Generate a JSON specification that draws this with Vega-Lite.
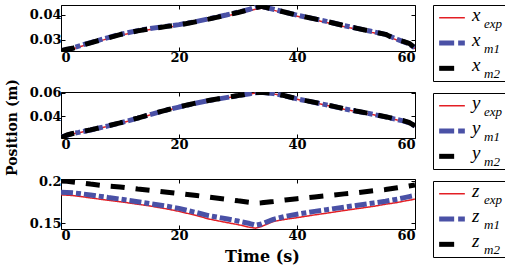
{
  "$schema": "https://vega.github.io/schema/vega-lite/v6.json",
  "padding": {"left": 4, "top": 4, "right": 2, "bottom": 2},
  "config": {
    "view": {"stroke": "black", "strokeWidth": 1},
    "font": "DejaVu Serif",
    "line": {"strokeJoin": "bevel", "clip": true},
    "axis": {"labelFont": "DejaVu Serif", "labelFontWeight": "bold", "labelFontSize": 13, "labelColor": "black", "titleFont": "DejaVu Serif", "titleFontWeight": "bold", "titleFontSize": 15, "titleColor": "black", "grid": false, "domain": false, "tickColor": "black", "tickSize": -4, "labelPadding": 4, "minExtent": 0}
  },
  "datasets": {
    "x": [
      {"t":0,"exp":0.0256,"m1":0.0257,"m2":0.0256},{"t":1,"exp":0.0258,"m1":0.0260,"m2":0.0262},{"t":2,"exp":0.0264,"m1":0.0267,"m2":0.0266},{"t":3,"exp":0.0271,"m1":0.0275,"m2":0.0274},{"t":5,"exp":0.0285,"m1":0.0289,"m2":0.0288},{"t":8,"exp":0.0305,"m1":0.0309,"m2":0.0308},{"t":10,"exp":0.0318,"m1":0.0322,"m2":0.0321},{"t":13,"exp":0.0333,"m1":0.0337,"m2":0.0336},{"t":15,"exp":0.0341,"m1":0.0345,"m2":0.0344},{"t":18,"exp":0.0351,"m1":0.0355,"m2":0.0354},{"t":20,"exp":0.0357,"m1":0.0361,"m2":0.0360},{"t":23,"exp":0.0370,"m1":0.0374,"m2":0.0373},{"t":25,"exp":0.0380,"m1":0.0384,"m2":0.0383},{"t":28,"exp":0.0396,"m1":0.0400,"m2":0.0399},{"t":30,"exp":0.0406,"m1":0.0411,"m2":0.0410},{"t":32,"exp":0.0417,"m1":0.0423,"m2":0.0422},{"t":33,"exp":0.0423,"m1":0.0431,"m2":0.0430},{"t":34,"exp":0.0427,"m1":0.0434,"m2":0.0435},{"t":36,"exp":0.0419,"m1":0.0423,"m2":0.0423},{"t":38,"exp":0.0407,"m1":0.0411,"m2":0.0411},{"t":40,"exp":0.0395,"m1":0.0399,"m2":0.0399},{"t":43,"exp":0.0380,"m1":0.0384,"m2":0.0384},{"t":45,"exp":0.0370,"m1":0.0374,"m2":0.0374},{"t":48,"exp":0.0353,"m1":0.0357,"m2":0.0357},{"t":50,"exp":0.0343,"m1":0.0347,"m2":0.0347},{"t":53,"exp":0.0328,"m1":0.0332,"m2":0.0332},{"t":55,"exp":0.0318,"m1":0.0322,"m2":0.0322},{"t":57,"exp":0.0298,"m1":0.0302,"m2":0.0300},{"t":58,"exp":0.0290,"m1":0.0293,"m2":0.0294},{"t":59,"exp":0.0281,"m1":0.0284,"m2":0.0286},{"t":60,"exp":0.0264,"m1":0.0267,"m2":0.0268}
    ],
    "y": [
      {"t":0,"exp":0.0225,"m1":0.0227,"m2":0.0222},{"t":1,"exp":0.0238,"m1":0.0241,"m2":0.0245},{"t":2,"exp":0.0256,"m1":0.0259,"m2":0.0258},{"t":3,"exp":0.0264,"m1":0.0267,"m2":0.0267},{"t":5,"exp":0.0284,"m1":0.0287,"m2":0.0288},{"t":8,"exp":0.0318,"m1":0.0321,"m2":0.0322},{"t":10,"exp":0.0343,"m1":0.0346,"m2":0.0347},{"t":13,"exp":0.0383,"m1":0.0386,"m2":0.0387},{"t":15,"exp":0.0412,"m1":0.0415,"m2":0.0416},{"t":18,"exp":0.0452,"m1":0.0455,"m2":0.0456},{"t":20,"exp":0.0476,"m1":0.0479,"m2":0.0480},{"t":23,"exp":0.0510,"m1":0.0513,"m2":0.0514},{"t":25,"exp":0.0530,"m1":0.0533,"m2":0.0534},{"t":28,"exp":0.0555,"m1":0.0558,"m2":0.0559},{"t":30,"exp":0.0571,"m1":0.0574,"m2":0.0575},{"t":32,"exp":0.0588,"m1":0.0591,"m2":0.0592},{"t":33,"exp":0.0596,"m1":0.0599,"m2":0.0600},{"t":34,"exp":0.0598,"m1":0.0601,"m2":0.0602},{"t":36,"exp":0.0589,"m1":0.0592,"m2":0.0593},{"t":38,"exp":0.0569,"m1":0.0572,"m2":0.0573},{"t":40,"exp":0.0544,"m1":0.0547,"m2":0.0548},{"t":43,"exp":0.0514,"m1":0.0517,"m2":0.0518},{"t":45,"exp":0.0494,"m1":0.0497,"m2":0.0498},{"t":48,"exp":0.0461,"m1":0.0464,"m2":0.0465},{"t":50,"exp":0.0442,"m1":0.0445,"m2":0.0446},{"t":53,"exp":0.0414,"m1":0.0417,"m2":0.0418},{"t":55,"exp":0.0394,"m1":0.0397,"m2":0.0398},{"t":57,"exp":0.0371,"m1":0.0374,"m2":0.0376},{"t":58,"exp":0.0360,"m1":0.0363,"m2":0.0366},{"t":59,"exp":0.0344,"m1":0.0347,"m2":0.0350},{"t":60,"exp":0.0318,"m1":0.0321,"m2":0.0322}
    ],
    "z": [
      {"t":0,"exp":0.1837,"m1":0.1868,"m2":0.2000},{"t":1,"exp":0.1833,"m1":0.1865,"m2":0.1997},{"t":2,"exp":0.1828,"m1":0.1860,"m2":0.1990},{"t":3,"exp":0.1820,"m1":0.1853,"m2":0.1982},{"t":5,"exp":0.1800,"m1":0.1835,"m2":0.1965},{"t":8,"exp":0.1772,"m1":0.1805,"m2":0.1940},{"t":10,"exp":0.1755,"m1":0.1786,"m2":0.1930},{"t":13,"exp":0.1725,"m1":0.1755,"m2":0.1905},{"t":15,"exp":0.1705,"m1":0.1733,"m2":0.1892},{"t":18,"exp":0.1668,"m1":0.1700,"m2":0.1868},{"t":20,"exp":0.1640,"m1":0.1675,"m2":0.1852},{"t":23,"exp":0.1590,"m1":0.1625,"m2":0.1828},{"t":25,"exp":0.1550,"m1":0.1590,"m2":0.1810},{"t":28,"exp":0.1508,"m1":0.1552,"m2":0.1785},{"t":30,"exp":0.1482,"m1":0.1525,"m2":0.1765},{"t":32,"exp":0.1450,"m1":0.1495,"m2":0.1748},{"t":33,"exp":0.1440,"m1":0.1475,"m2":0.1738},{"t":34,"exp":0.1460,"m1":0.1490,"m2":0.1742},{"t":36,"exp":0.1520,"m1":0.1545,"m2":0.1758},{"t":38,"exp":0.1545,"m1":0.1580,"m2":0.1775},{"t":40,"exp":0.1565,"m1":0.1605,"m2":0.1790},{"t":43,"exp":0.1598,"m1":0.1640,"m2":0.1812},{"t":45,"exp":0.1618,"m1":0.1660,"m2":0.1826},{"t":48,"exp":0.1650,"m1":0.1690,"m2":0.1848},{"t":50,"exp":0.1670,"m1":0.1710,"m2":0.1860},{"t":53,"exp":0.1700,"m1":0.1740,"m2":0.1885},{"t":55,"exp":0.1725,"m1":0.1760,"m2":0.1900},{"t":57,"exp":0.1745,"m1":0.1785,"m2":0.1920},{"t":58,"exp":0.1760,"m1":0.1800,"m2":0.1930},{"t":59,"exp":0.1772,"m1":0.1815,"m2":0.1942},{"t":60,"exp":0.1786,"m1":0.1830,"m2":0.1955}
    ],
    "lx": [{"s":"exp","letter":"x","sub":"exp"},{"s":"m1","letter":"x","sub":"m1"},{"s":"m2","letter":"x","sub":"m2"}],
    "ly": [{"s":"exp","letter":"y","sub":"exp"},{"s":"m1","letter":"y","sub":"m1"},{"s":"m2","letter":"y","sub":"m2"}],
    "lz": [{"s":"exp","letter":"z","sub":"exp"},{"s":"m1","letter":"z","sub":"m1"},{"s":"m2","letter":"z","sub":"m2"}]
  },
  "spacing": 12,
  "hconcat": [
    {
      "spacing": 41,
      "bounds": "flush",
      "vconcat": [
        {
          "width": 354, "height": 46,
          "data": {"name": "x"},
          "transform": [{"fold": ["exp", "m1", "m2"], "as": ["s", "v"]}],
          "layer": [
            {
              "mark": {"type": "line", "strokeCap": "butt", "strokeJoin": "bevel", "clip": true},
              "encoding": {
                "x": {"field": "t", "type": "quantitative", "scale": {"domain": [0, 60], "nice": false}, "axis": {"values": [0, 20, 40, 60], "labelFlush": true, "title": null}},
                "y": {"field": "v", "type": "quantitative", "scale": {"domain": [0.0255, 0.044], "nice": false, "zero": false}, "axis": {"values": [0.03, 0.04], "format": "~g", "title": null}},
                "color": {"field": "s", "type": "nominal", "scale": {"domain": ["exp", "m1", "m2"], "range": ["#e31e24", "#4a51a6", "#000000"]}, "legend": null},
                "strokeWidth": {"condition": {"test": "datum.s === 'exp'", "value": 1.5}, "value": 5},
                "strokeDash": {"condition": [{"test": "datum.s === 'm1'", "value": [12, 3, 5, 3]}, {"test": "datum.s === 'm2'", "value": [14, 11]}], "value": [1, 0]}
              }
            },
            {
              "mark": {"type": "line", "strokeOpacity": 0, "strokeJoin": "bevel", "clip": true},
              "encoding": {
                "x": {"field": "t", "type": "quantitative", "axis": {"orient": "top", "values": [0, 20, 40, 60], "labels": false, "title": null, "minExtent": 0, "maxExtent": 0}},
                "y": {"field": "v", "type": "quantitative", "axis": {"orient": "right", "values": [0.03, 0.04], "labels": false, "title": null, "minExtent": 0, "maxExtent": 0}}
              }
            }
          ],
          "resolve": {"axis": {"x": "independent", "y": "independent"}}
        },
        {
          "width": 354, "height": 46,
          "data": {"name": "y"},
          "transform": [{"fold": ["exp", "m1", "m2"], "as": ["s", "v"]}],
          "layer": [
            {
              "mark": {"type": "line", "strokeCap": "butt", "strokeJoin": "bevel", "clip": true},
              "encoding": {
                "x": {"field": "t", "type": "quantitative", "scale": {"domain": [0, 60], "nice": false}, "axis": {"values": [0, 20, 40, 60], "labelFlush": true, "title": null}},
                "y": {"field": "v", "type": "quantitative", "scale": {"domain": [0.022, 0.0605], "nice": false, "zero": false}, "axis": {"values": [0.04, 0.06], "format": "~g", "title": "Position (m)", "titleX": -42, "titleY": 35, "titleAngle": -90, "titleBaseline": "bottom", "titleAlign": "center", "titleFontSize": 14}},
                "color": {"field": "s", "type": "nominal", "scale": {"domain": ["exp", "m1", "m2"], "range": ["#e31e24", "#4a51a6", "#000000"]}, "legend": null},
                "strokeWidth": {"condition": {"test": "datum.s === 'exp'", "value": 1.5}, "value": 5},
                "strokeDash": {"condition": [{"test": "datum.s === 'm1'", "value": [12, 3, 5, 3]}, {"test": "datum.s === 'm2'", "value": [14, 11]}], "value": [1, 0]}
              }
            },
            {
              "mark": {"type": "line", "strokeOpacity": 0, "strokeJoin": "bevel", "clip": true},
              "encoding": {
                "x": {"field": "t", "type": "quantitative", "axis": {"orient": "top", "values": [0, 20, 40, 60], "labels": false, "title": null, "minExtent": 0, "maxExtent": 0}},
                "y": {"field": "v", "type": "quantitative", "axis": {"orient": "right", "values": [0.04, 0.06], "labels": false, "title": null, "minExtent": 0, "maxExtent": 0}}
              }
            }
          ],
          "resolve": {"axis": {"x": "independent", "y": "independent"}}
        },
        {
          "width": 354, "height": 50,
          "data": {"name": "z"},
          "transform": [{"fold": ["exp", "m1", "m2"], "as": ["s", "v"]}],
          "layer": [
            {
              "mark": {"type": "line", "strokeCap": "butt", "strokeJoin": "bevel", "clip": true},
              "encoding": {
                "x": {"field": "t", "type": "quantitative", "scale": {"domain": [0, 60], "nice": false}, "axis": {"values": [0, 20, 40, 60], "labelFlush": true, "title": "Time (s)", "titleX": 201, "titleAlign": "center", "titleFontSize": 16, "titlePadding": 6}},
                "y": {"field": "v", "type": "quantitative", "scale": {"domain": [0.143, 0.2025], "nice": false, "zero": false}, "axis": {"values": [0.15, 0.2], "format": "~g", "title": null}},
                "color": {"field": "s", "type": "nominal", "scale": {"domain": ["exp", "m1", "m2"], "range": ["#e31e24", "#4a51a6", "#000000"]}, "legend": null},
                "strokeWidth": {"condition": {"test": "datum.s === 'exp'", "value": 1.5}, "value": 5},
                "strokeDash": {"condition": [{"test": "datum.s === 'm1'", "value": [12, 3, 5, 3]}, {"test": "datum.s === 'm2'", "value": [14, 11]}], "value": [1, 0]}
              }
            },
            {
              "mark": {"type": "line", "strokeOpacity": 0, "strokeJoin": "bevel", "clip": true},
              "encoding": {
                "x": {"field": "t", "type": "quantitative", "axis": {"orient": "top", "values": [0, 20, 40, 60], "labels": false, "title": null, "minExtent": 0, "maxExtent": 0}},
                "y": {"field": "v", "type": "quantitative", "axis": {"orient": "right", "values": [0.15, 0.2], "labels": false, "title": null, "minExtent": 0, "maxExtent": 0}}
              }
            }
          ],
          "resolve": {"axis": {"x": "independent", "y": "independent"}}
        }
      ]
    },
    {
      "spacing": 10,
      "vconcat": [
        {
          "width": 74, "height": 76,
          "data": {"name": "lx"},
          "encoding": {"y": {"field": "s", "type": "nominal", "scale": {"domain": ["exp", "m1", "m2"]}, "axis": null}},
          "layer": [
            {"mark": {"type": "point", "shape": "M-1,0L1,0", "size": 660, "filled": false, "opacity": 1, "xOffset": -18},
             "encoding": {
               "color": {"field": "s", "type": "nominal", "scale": {"domain": ["exp", "m1", "m2"], "range": ["#e31e24", "#4a51a6", "#000000"]}, "legend": null},
               "strokeWidth": {"condition": {"test": "datum.s === 'exp'", "value": 1.5}, "value": 5},
               "strokeDash": {"condition": [{"test": "datum.s === 'm1'", "value": [15, 4, 7, 4]}, {"test": "datum.s === 'm2'", "value": [15, 12]}], "value": [1, 0]}
             }},
            {"mark": {"type": "text", "font": "Liberation Serif", "fontStyle": "italic", "fontSize": 19, "align": "left", "baseline": "alphabetic", "dx": 2, "dy": 3, "color": "black"}, "encoding": {"text": {"field": "letter"}}},
            {"mark": {"type": "text", "font": "Liberation Serif", "fontStyle": "italic", "fontSize": 13, "align": "left", "baseline": "alphabetic", "dx": 14, "dy": 10, "color": "black"}, "encoding": {"text": {"field": "sub"}}}
          ]
        },
        {
          "width": 74, "height": 76,
          "data": {"name": "ly"},
          "encoding": {"y": {"field": "s", "type": "nominal", "scale": {"domain": ["exp", "m1", "m2"]}, "axis": null}},
          "layer": [
            {"mark": {"type": "point", "shape": "M-1,0L1,0", "size": 660, "filled": false, "opacity": 1, "xOffset": -18},
             "encoding": {
               "color": {"field": "s", "type": "nominal", "scale": {"domain": ["exp", "m1", "m2"], "range": ["#e31e24", "#4a51a6", "#000000"]}, "legend": null},
               "strokeWidth": {"condition": {"test": "datum.s === 'exp'", "value": 1.5}, "value": 5},
               "strokeDash": {"condition": [{"test": "datum.s === 'm1'", "value": [15, 4, 7, 4]}, {"test": "datum.s === 'm2'", "value": [15, 12]}], "value": [1, 0]}
             }},
            {"mark": {"type": "text", "font": "Liberation Serif", "fontStyle": "italic", "fontSize": 19, "align": "left", "baseline": "alphabetic", "dx": 2, "dy": 3, "color": "black"}, "encoding": {"text": {"field": "letter"}}},
            {"mark": {"type": "text", "font": "Liberation Serif", "fontStyle": "italic", "fontSize": 13, "align": "left", "baseline": "alphabetic", "dx": 14, "dy": 10, "color": "black"}, "encoding": {"text": {"field": "sub"}}}
          ]
        },
        {
          "width": 74, "height": 76,
          "data": {"name": "lz"},
          "encoding": {"y": {"field": "s", "type": "nominal", "scale": {"domain": ["exp", "m1", "m2"]}, "axis": null}},
          "layer": [
            {"mark": {"type": "point", "shape": "M-1,0L1,0", "size": 660, "filled": false, "opacity": 1, "xOffset": -18},
             "encoding": {
               "color": {"field": "s", "type": "nominal", "scale": {"domain": ["exp", "m1", "m2"], "range": ["#e31e24", "#4a51a6", "#000000"]}, "legend": null},
               "strokeWidth": {"condition": {"test": "datum.s === 'exp'", "value": 1.5}, "value": 5},
               "strokeDash": {"condition": [{"test": "datum.s === 'm1'", "value": [15, 4, 7, 4]}, {"test": "datum.s === 'm2'", "value": [15, 12]}], "value": [1, 0]}
             }},
            {"mark": {"type": "text", "font": "Liberation Serif", "fontStyle": "italic", "fontSize": 19, "align": "left", "baseline": "alphabetic", "dx": 2, "dy": 3, "color": "black"}, "encoding": {"text": {"field": "letter"}}},
            {"mark": {"type": "text", "font": "Liberation Serif", "fontStyle": "italic", "fontSize": 13, "align": "left", "baseline": "alphabetic", "dx": 14, "dy": 10, "color": "black"}, "encoding": {"text": {"field": "sub"}}}
          ]
        }
      ]
    }
  ]
}
